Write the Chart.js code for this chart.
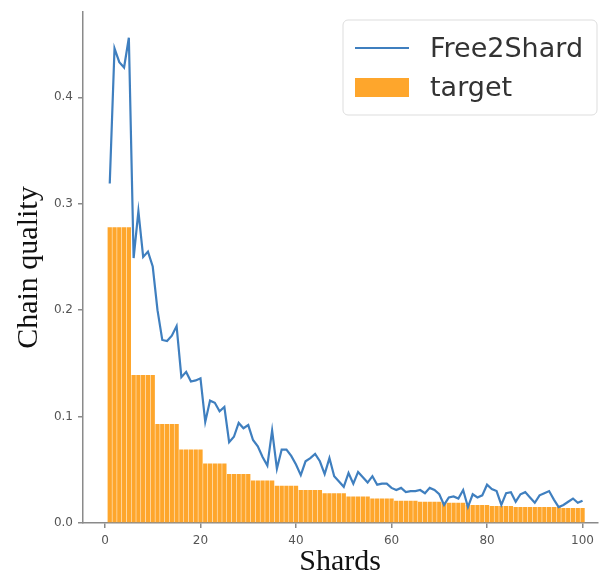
<!DOCTYPE html>
<html>
<head>
<meta charset="utf-8">
<script src="https://cdn.jsdelivr.net/npm/chart.js@4.4.0/dist/chart.umd.min.js"></script>
<style>
	html, body { margin: 0; padding: 0; background: #fff; }
	#wrap { width: 600px; height: 577px; position: relative; }
</style>
</head>
<body>
<div id="wrap"><canvas id="chart"></canvas></div>
<script>
( function () {
	'use strict';

	// Shard index 1..100 along the x axis.
	var SHARDS = [];
	for ( var s = 1; s <= 100; s++ ) {
		SHARDS.push( s );
	}

	// Free2Shard chain quality.
	var FREE2SHARD = [
		0.319, 0.446, 0.433, 0.428, 0.456, 0.249, 0.293, 0.250, 0.255, 0.241,
		0.200, 0.172, 0.171, 0.176, 0.185, 0.137, 0.142, 0.133, 0.134, 0.136,
		0.095, 0.115, 0.113, 0.105, 0.109, 0.076, 0.081, 0.094, 0.089, 0.092,
		0.078, 0.072, 0.062, 0.054, 0.087, 0.051, 0.069, 0.069, 0.063, 0.055,
		0.045, 0.058, 0.061, 0.065, 0.058, 0.046, 0.061, 0.044, 0.039, 0.034,
		0.047, 0.037, 0.048, 0.043, 0.038, 0.044, 0.036, 0.037, 0.037, 0.033,
		0.031, 0.033, 0.029, 0.030, 0.030, 0.031, 0.028, 0.033, 0.031, 0.027,
		0.017, 0.024, 0.025, 0.023, 0.031, 0.015, 0.027, 0.024, 0.026, 0.036,
		0.032, 0.030, 0.017, 0.028, 0.029, 0.020, 0.027, 0.029, 0.024, 0.019,
		0.026, 0.028, 0.030, 0.022, 0.015, 0.017, 0.020, 0.023, 0.019, 0.021
	];

	// Target bars, stepping down every five shards.
	var TARGET = [
		0.278, 0.278, 0.278, 0.278, 0.278, 0.139, 0.139, 0.139, 0.139, 0.139,
		0.093, 0.093, 0.093, 0.093, 0.093, 0.069, 0.069, 0.069, 0.069, 0.069,
		0.056, 0.056, 0.056, 0.056, 0.056, 0.046, 0.046, 0.046, 0.046, 0.046,
		0.040, 0.040, 0.040, 0.040, 0.040, 0.035, 0.035, 0.035, 0.035, 0.035,
		0.031, 0.031, 0.031, 0.031, 0.031, 0.028, 0.028, 0.028, 0.028, 0.028,
		0.025, 0.025, 0.025, 0.025, 0.025, 0.023, 0.023, 0.023, 0.023, 0.023,
		0.021, 0.021, 0.021, 0.021, 0.021, 0.020, 0.020, 0.020, 0.020, 0.020,
		0.019, 0.019, 0.019, 0.019, 0.019, 0.017, 0.017, 0.017, 0.017, 0.017,
		0.016, 0.016, 0.016, 0.016, 0.016, 0.015, 0.015, 0.015, 0.015, 0.015,
		0.015, 0.015, 0.015, 0.015, 0.015, 0.014, 0.014, 0.014, 0.014, 0.014
	];

	var X_TICKS = [ 0, 20, 40, 60, 80, 100 ];
	var Y_TICKS = [ 0.0, 0.1, 0.2, 0.3, 0.4 ];

	var COLORS = {
		line:  '#3f7fbf',
		bar:   '#fea62c',
		axis:  '#8a8a8a',
		ticks: '#555555',
	};

	function points( values ) {
		var out = [];
		for ( var i = 0; i < SHARDS.length; i++ ) {
			out.push( { x: SHARDS[ i ], y: values[ i ] } );
		}
		return out;
	}

	// Boxed legend in the upper right, like matplotlib's.
	var boxLegend = {
		id: 'boxLegend',
		afterDraw: function ( chart ) {
			var ctx = chart.ctx;
			var x = 343, y = 20, w = 254, h = 95, r = 5;
			ctx.save();
			ctx.beginPath();
			ctx.moveTo( x + r, y );
			ctx.arcTo( x + w, y, x + w, y + h, r );
			ctx.arcTo( x + w, y + h, x, y + h, r );
			ctx.arcTo( x, y + h, x, y, r );
			ctx.arcTo( x, y, x + w, y, r );
			ctx.closePath();
			ctx.fillStyle = 'rgba(255,255,255,0.85)';
			ctx.fill();
			ctx.strokeStyle = '#dddddd';
			ctx.lineWidth = 1;
			ctx.stroke();

			ctx.strokeStyle = COLORS.line;
			ctx.lineWidth = 2.2;
			ctx.beginPath();
			ctx.moveTo( 355, 48 );
			ctx.lineTo( 409, 48 );
			ctx.stroke();

			ctx.fillStyle = COLORS.bar;
			ctx.fillRect( 355, 78, 54, 19 );

			ctx.fillStyle = '#333333';
			ctx.font = '27px "DejaVu Sans"';
			ctx.textBaseline = 'alphabetic';
			ctx.fillText( 'Free2Shard', 430, 57 );
			ctx.fillText( 'target', 430, 96 );
			ctx.restore();
		},
	};

	var tickFont  = { family: 'DejaVu Sans', size: 12 };
	var titleFont = { family: 'Liberation Serif', size: 30, lineHeight: 1 };

	new Chart( document.getElementById( 'chart' ), {
		type: 'bar',
		data: {
			datasets: [
				{
					type:        'line',
					label:       'Free2Shard',
					data:        points( FREE2SHARD ),
					borderColor: COLORS.line,
					borderWidth: 2.2,
					pointRadius: 0,
					tension:     0,
					order:       0,
				},
				{
					label:              'target',
					data:               points( TARGET ),
					backgroundColor:    COLORS.bar,
					barPercentage:      0.9,
					categoryPercentage: 1,
					order:              1,
				},
			],
		},
		options: {
			responsive:          true,
			maintainAspectRatio: false,
			animation:           false,
			devicePixelRatio:    1,
			layout:              { padding: { top: 12, right: 0, left: 0, bottom: 0 } },
			plugins: {
				legend:  { display: false },
				tooltip: { enabled: false },
			},
			scales: {
				x: {
					type:   'linear',
					min:    -4.6,
					max:    103.1,
					offset: false,
					afterBuildTicks: function ( scale ) {
						scale.ticks = X_TICKS.map( function ( v ) { return { value: v }; } );
					},
					afterFit: function ( scale ) {
						scale.height = 54;
					},
					ticks:  { font: tickFont, color: COLORS.ticks, padding: 6, maxRotation: 0 },
					grid:   { offset: false, drawOnChartArea: false, tickLength: 5, color: COLORS.axis, lineWidth: 1.5 },
					border: { color: COLORS.axis, width: 1.5 },
					title:  {
						display: true,
						text:    'Shards',
						font:    titleFont,
						color:   '#111111',
						padding: { top: 0, bottom: 0 },
					},
				},
				y: {
					min: 0,
					max: 0.48,
					afterBuildTicks: function ( scale ) {
						scale.ticks = Y_TICKS.map( function ( v ) { return { value: v }; } );
					},
					afterFit: function ( scale ) {
						scale.width = 83;
					},
					ticks: {
						font:     tickFont,
						color:    COLORS.ticks,
						padding:  5,
						callback: function ( v ) { return v.toFixed( 1 ); },
					},
					grid:   { drawOnChartArea: false, tickLength: 5, color: COLORS.axis, lineWidth: 1.5 },
					border: { color: COLORS.axis, width: 1.5 },
					title:  {
						display: true,
						text:    'Chain quality',
						font:    titleFont,
						color:   '#111111',
						padding: { top: 14, bottom: 0 },
					},
				},
			},
		},
		plugins: [ boxLegend ],
	} );
} )();
</script>
</body>
</html>
